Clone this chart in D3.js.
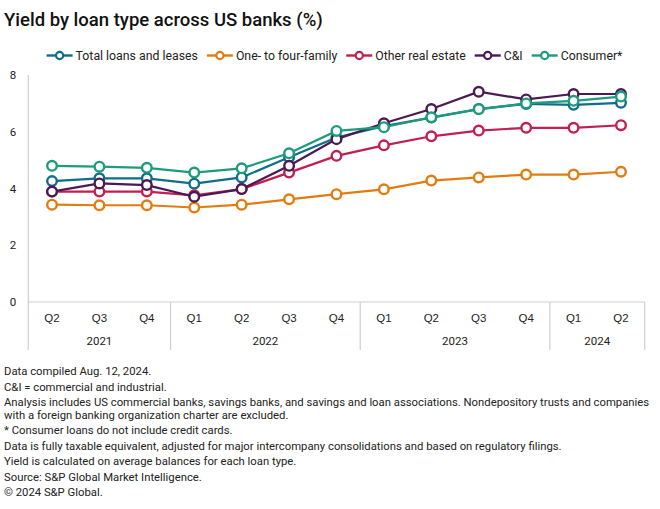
<!DOCTYPE html>
<html>
<head>
<meta charset="utf-8">
<script src="https://cdn.jsdelivr.net/npm/d3@7"></script>
<style>
  body { margin: 0; background: #fff; }
  svg { font-family: "Roboto", "Liberation Sans", sans-serif; }
</style>
</head>
<body>
<svg id="chart" width="660" height="509"></svg>
<script>
// Yield by loan type -- quarterly, Q2 2021 .. Q2 2024

var quarters = ["Q2", "Q3", "Q4", "Q1", "Q2", "Q3", "Q4", "Q1", "Q2", "Q3", "Q4", "Q1", "Q2"];
var years = [
  { label: "2021", from: 0, to: 2 },
  { label: "2022", from: 3, to: 6 },
  { label: "2023", from: 7, to: 10 },
  { label: "2024", from: 11, to: 12 }
];
var yTicks = [0, 2, 4, 6, 8];

var totalLoans   = [4.26, 4.36, 4.36, 4.17, 4.39, 5.10, 5.80, 6.20, 6.50, 6.80, 6.98, 6.95, 7.02];
var oneToFour    = [3.43, 3.41, 3.41, 3.33, 3.43, 3.62, 3.80, 3.97, 4.28, 4.39, 4.49, 4.49, 4.59];
var otherRE      = [3.89, 3.89, 3.89, 3.76, 3.98, 4.56, 5.15, 5.52, 5.84, 6.04, 6.14, 6.14, 6.23];
var cAndI        = [3.89, 4.18, 4.12, 3.71, 3.98, 4.80, 5.74, 6.30, 6.80, 7.41, 7.14, 7.33, 7.33];
var consumer     = [4.80, 4.77, 4.73, 4.56, 4.71, 5.24, 6.03, 6.16, 6.51, 6.80, 7.00, 7.09, 7.24];

var seriesNames = ["Total loans and leases", "One- to four-family", "Other real estate", "C&I", "Consumer*"];
var seriesValues = [totalLoans, oneToFour, otherRE, cAndI, consumer];
var colors = ["#0f6c8b", "#e27c10", "#c21f51", "#4b1953", "#1c9c7c"];

var notes = [
  ["Data compiled Aug. 12, 2024."],
  ["C&I = commercial and industrial."],
  ["Analysis includes US commercial banks, savings banks, and savings and loan associations. Nondepository trusts and companies",
   "with a foreign banking organization charter are excluded."],
  ["* Consumer loans do not include credit cards."],
  ["Data is fully taxable equivalent, adjusted for major intercompany consolidations and based on regulatory filings."],
  ["Yield is calculated on average balances for each loan type."],
  ["Source: S&P Global Market Intelligence."],
  ["\u00a9 2024 S&P Global."]
];

var svg = d3.select("#chart");
var plotLeft = 28.3, plotRight = 644.7, plotTop = 75, plotBottom = 302, bandBottom = 350;

var x = d3.scaleBand().domain(d3.range(quarters.length)).range([plotLeft, plotRight]);
var cx = function (i) { return x(i) + x.bandwidth() / 2; };
var y = d3.scaleLinear().domain([0, 8]).range([plotBottom, plotTop]);

// Title
svg.append("text")
  .attr("x", 4).attr("y", 26)
  .attr("font-size", 18.5).attr("font-weight", 500).attr("fill", "#111")
  .text("Yield by loan type across US banks (%)");

///////////////////////////////////////////////////////////////////////////////
// Axes

var yAxis = d3.axisLeft(y).tickValues(yTicks).tickSize(0).tickPadding(12);
var gy = svg.append("g").attr("transform", "translate(" + plotLeft + ",0)").call(yAxis);
gy.select(".domain").remove();
gy.selectAll("text").attr("font-size", 11.5).attr("fill", "#222")
  .attr("font-family", "Roboto, sans-serif");

var grid = svg.append("g").attr("stroke", "#cfcfcf").attr("stroke-width", 1.2);
grid.append("line").attr("x1", plotLeft).attr("x2", plotLeft).attr("y1", plotTop).attr("y2", bandBottom);
grid.append("line").attr("x1", plotLeft).attr("x2", plotRight).attr("y1", plotBottom).attr("y2", plotBottom);

years.forEach(function (yr) {
  var x1 = x(yr.to) + x.bandwidth();
  grid.append("line").attr("x1", x1).attr("x2", x1).attr("y1", plotBottom).attr("y2", bandBottom);
});

var xAxis = d3.axisBottom(x).tickFormat(function (i) { return quarters[i]; }).tickSize(0).tickPadding(12);
var gx = svg.append("g").attr("transform", "translate(0," + plotBottom + ")").call(xAxis);
gx.select(".domain").remove();
gx.selectAll("text").attr("font-size", 11.5).attr("fill", "#222");

svg.append("g").selectAll("text").data(years).enter().append("text")
  .attr("x", function (d) { return (x(d.from) + x(d.to) + x.bandwidth()) / 2; })
  .attr("y", 345)
  .attr("text-anchor", "middle").attr("font-size", 11.5).attr("fill", "#222")
  .text(function (d) { return d.label; });

///////////////////////////////////////////////////////////////////////////////
// Lines and markers

var line = d3.line().x(function (d, i) { return cx(i); }).y(function (d) { return y(d); });

seriesValues.forEach(function (vals, s) {
  var g = svg.append("g");
  g.append("path").datum(vals)
    .attr("d", line).attr("fill", "none")
    .attr("stroke", colors[s]).attr("stroke-width", 2.2);
  g.selectAll("circle").data(vals).enter().append("circle")
    .attr("cx", function (d, i) { return cx(i); })
    .attr("cy", function (d) { return y(d); })
    .attr("r", 4.8).attr("fill", "#fff")
    .attr("stroke", colors[s]).attr("stroke-width", 2.4);
});

///////////////////////////////////////////////////////////////////////////////
// Legend

var legend = svg.append("g");
var pos = 0;
seriesNames.forEach(function (name, s) {
  var item = legend.append("g").attr("transform", "translate(" + pos + ",0)");
  item.append("line").attr("x1", 0).attr("x2", 26).attr("y1", 0).attr("y2", 0)
    .attr("stroke", colors[s]).attr("stroke-width", 2.4);
  item.append("circle").attr("cx", 13).attr("cy", 0).attr("r", 3.6)
    .attr("fill", "#fff").attr("stroke", colors[s]).attr("stroke-width", 2.2);
  var t = item.append("text").attr("x", 29).attr("y", 4.3)
    .attr("font-size", 12.3).attr("fill", "#222").text(name);
  pos += 29 + t.node().getComputedTextLength() + 9;
});
legend.attr("transform", "translate(" + (42 + (585 - (pos - 9)) / 2) + ",55.5)");

///////////////////////////////////////////////////////////////////////////////
// Footnotes

var ny = 375;
var foot = svg.append("g").attr("font-size", 11.3).attr("fill", "#222");
notes.forEach(function (para) {
  para.forEach(function (ln, j) {
    if (j > 0) ny += 12.5;
    foot.append("text").attr("x", 4).attr("y", ny).text(ln);
  });
  ny += 15.5;
});
</script>
</body>
</html>
